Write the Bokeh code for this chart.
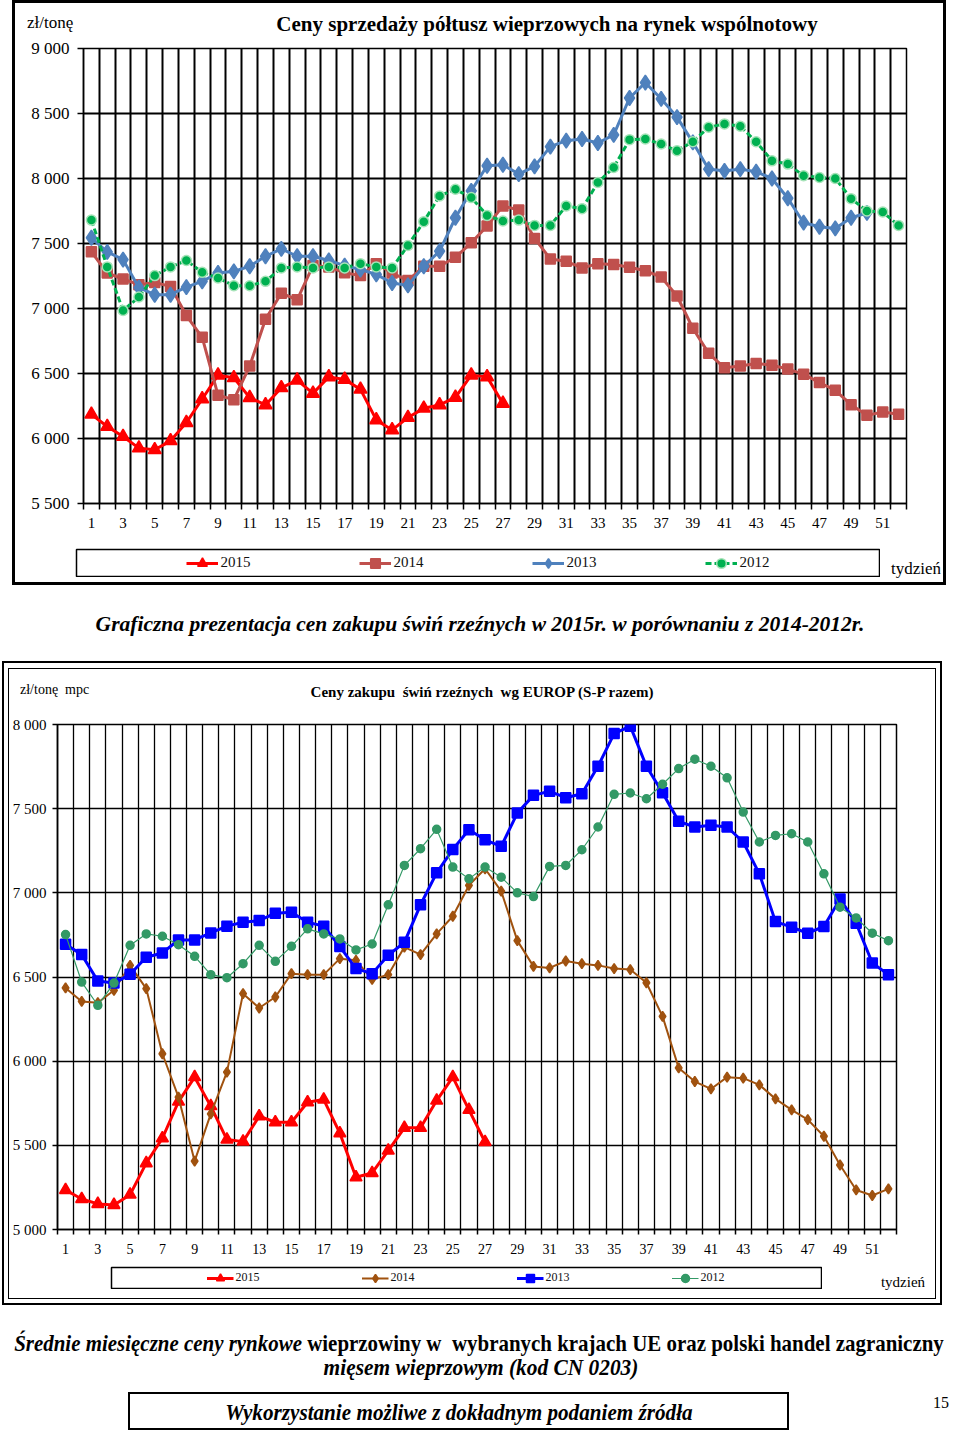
from bokeh.plotting import figure
from bokeh.models import FixedTicker, Legend, LegendItem, Div, Spacer
from bokeh.layouts import column, row
from bokeh.embed import file_html
from bokeh.resources import INLINE

FONT = "Liberation Serif"

# ---------------- data ----------------
weeks = list(range(1, 53))
odd_weeks = list(range(1, 53, 2))

# Chart 1: Ceny sprzedaży półtusz wieprzowych (zł/tonę)
top_2015 = [6186, 6092, 6015, 5926, 5913, 5982, 6122, 6304, 6487, 6467, 6314, 6258, 6390, 6449,
            6347, 6474, 6454, 6378, 6143, 6066, 6161, 6232, 6258, 6316, 6487, 6474, 6270]
top_2014 = [7436, 7273, 7227, 7183, 7200, 7170, 6946, 6778, 6333, 6299, 6557, 6918, 7118, 7067,
            7330, 7320, 7275, 7253, 7345, 7273, 7215, 7325, 7325, 7394, 7505, 7634, 7789, 7758,
            7539, 7381, 7363, 7312, 7345, 7338, 7317, 7291, 7242, 7096, 6848, 6655, 6544, 6557,
            6577, 6564, 6534, 6495, 6430, 6371, 6260, 6178, 6204, 6186]
top_2013 = [7544, 7436, 7376, 7160, 7106, 7106, 7165, 7209, 7273, 7286, 7325, 7402, 7459, 7402,
            7402, 7369, 7330, 7300, 7262, 7196, 7178, 7325, 7441, 7698, 7905, 8098, 8106, 8034,
            8093, 8245, 8291, 8304, 8273, 8335, 8619, 8737, 8613, 8472, 8278, 8072, 8059, 8072,
            8052, 8000, 7848, 7660, 7629, 7616, 7698, 7735]
top_2012 = [7680, 7320, 6985, 7088, 7253, 7320, 7369, 7278, 7235, 7175, 7175, 7209, 7312, 7320,
            7312, 7320, 7312, 7345, 7320, 7312, 7485, 7668, 7866, 7917, 7853, 7716, 7673, 7680,
            7639, 7639, 7789, 7768, 7969, 8085, 8299, 8304, 8265, 8214, 8283, 8394, 8420, 8402,
            8283, 8136, 8111, 8021, 8008, 8000, 7845, 7750, 7742, 7639]
top_yticks = [5500, 6000, 6500, 7000, 7500, 8000, 8500, 9000]

# Chart 2: Ceny zakupu świń rzeźnych wg EUROP (zł/tonę mpc)
bot_2015 = [5235, 5181, 5152, 5146, 5207, 5394, 5542, 5760, 5905, 5733, 5534, 5522, 5673, 5637,
            5637, 5756, 5772, 5572, 5310, 5336, 5469, 5604, 5604, 5766, 5905, 5711, 5520]
bot_2014 = [6435, 6355, 6347, 6421, 6569, 6431, 6044, 5786, 5406, 5687, 5935, 6401, 6316, 6381,
            6520, 6514, 6514, 6609, 6599, 6486, 6514, 6678, 6633, 6756, 6861, 7044, 7143, 7010,
            6716, 6563, 6554, 6595, 6579, 6569, 6550, 6544, 6466, 6266, 5960, 5879, 5835, 5905,
            5899, 5859, 5776, 5711, 5653, 5554, 5383, 5235, 5202, 5241]
bot_2013 = [6694, 6633, 6476, 6464, 6516, 6617, 6643, 6720, 6720, 6762, 6802, 6825, 6835, 6879,
            6885, 6825, 6802, 6681, 6550, 6520, 6629, 6706, 6929, 7119, 7258, 7375, 7315, 7276,
            7474, 7579, 7603, 7565, 7589, 7752, 7946, 7990, 7752, 7595, 7425, 7391, 7401, 7391,
            7302, 7113, 6829, 6796, 6760, 6800, 6964, 6819, 6583, 6514]
bot_2012 = [6752, 6470, 6332, 6464, 6688, 6756, 6742, 6692, 6623, 6514, 6496, 6579, 6688, 6593,
            6682, 6786, 6756, 6726, 6661, 6696, 6929, 7163, 7262, 7377, 7153, 7083, 7153, 7093,
            7000, 6978, 7157, 7163, 7256, 7391, 7585, 7593, 7559, 7645, 7738, 7794, 7752, 7683,
            7480, 7302, 7341, 7351, 7302, 7113, 6915, 6851, 6760, 6716]
bot_yticks = [5000, 5500, 6000, 6500, 7000, 7500, 8000]

years = ["2015", "2014", "2013", "2012"]

# series styles: (values, color, marker, marker size, line width, dash, marker outline)
top_specs = [
    (top_2015, "#FF0000", "triangle", 13, 3, "solid", "#FF0000"),
    (top_2014, "#C0504D", "square", 10, 3, "solid", "#C0504D"),
    (top_2013, "#4F81BD", "diamond", 15, 3, "solid", "#4F81BD"),
    (top_2012, "#00B050", "circle", 10, 3, "6 3", "#A6E3B8"),
]
bot_specs = [
    (bot_2015, "#FF0000", "triangle", 12, 3, "solid", "#FF0000"),
    (bot_2014, "#A0520F", "diamond", 10, 2, "solid", "#A0520F"),
    (bot_2013, "#0000FF", "square", 10, 3, "solid", "#0000FF"),
    (bot_2012, "#339966", "circle", 8, 1.2, "solid", "#339966"),
]


def fmt(v):
    return f"{v:,}".replace(",", " ")


def draw_series(p, specs):
    items = []
    for yr, (vals, col, mk, sz, lw, dash, mline) in zip(years, specs):
        xs = weeks[:len(vals)]
        lr = p.line(xs, vals, line_color=col, line_width=lw, line_dash=dash)
        sr = p.scatter(xs, vals, marker=mk, size=sz, fill_color=col, line_color=mline, line_width=1.5)
        items.append(LegendItem(label=yr, renderers=[lr, sr]))
    return items


def style_axes(p, yticks, ylab_size, xlab_size, grid_w, tick_len, ystand, xstand):
    bounds = [w + 0.5 for w in weeks[:-1]]
    p.xgrid.ticker = FixedTicker(ticks=bounds)
    p.ygrid.ticker = FixedTicker(ticks=yticks)
    for g in (p.xgrid, p.ygrid):
        g.grid_line_color = "black"
        g.grid_line_width = grid_w
    p.xaxis.ticker = FixedTicker(ticks=odd_weeks, minor_ticks=[w - 0.5 for w in weeks] + [52.5])
    p.xaxis.major_tick_out = 0
    p.xaxis.major_tick_in = 0
    p.xaxis.minor_tick_out = tick_len
    p.xaxis.minor_tick_in = 0
    p.xaxis.minor_tick_line_color = "black"
    p.xaxis.minor_tick_line_width = 1.5
    p.yaxis.ticker = FixedTicker(ticks=yticks)
    p.yaxis.major_label_overrides = {v: fmt(v) for v in yticks}
    p.yaxis.major_tick_out = tick_len
    p.yaxis.major_tick_in = 0
    p.yaxis.minor_tick_line_color = None
    for ax in (p.xaxis, p.yaxis):
        ax.axis_line_color = "black"
        ax.axis_line_width = 1.5
        ax.major_tick_line_color = "black"
        ax.major_tick_line_width = 1.5
        ax.major_label_text_font = FONT
        ax.major_label_text_color = "black"
    p.yaxis.major_label_text_font_size = ylab_size
    p.xaxis.major_label_text_font_size = xlab_size
    p.yaxis.major_label_standoff = ystand
    p.xaxis.major_label_standoff = xstand
    p.outline_line_color = "black"
    p.outline_line_width = 1.5


def legend_fig(specs, w, h, font_size, glyph_w, glyph_h, label_w, spacing, standoff):
    # small figure whose frame is the legend box; its series lie outside the view
    lf = figure(width=w, height=h, x_range=(-2, -1), y_range=(-2, -1),
                output_backend="svg", toolbar_location=None,
                x_axis_location=None, y_axis_location=None,
                min_border_left=1, min_border_right=1, min_border_top=1, min_border_bottom=1)
    lf.grid.visible = False
    lf.outline_line_color = "black"
    lf.outline_line_width = 1.5
    items = draw_series(lf, specs)
    leg = Legend(items=items, orientation="horizontal", location="center",
                 label_text_font=FONT, label_text_font_size=font_size, label_text_color="#111111",
                 label_width=label_w, label_height=glyph_h, glyph_width=glyph_w, glyph_height=glyph_h,
                 label_standoff=standoff, spacing=spacing, padding=0, margin=0,
                 border_line_color=None, background_fill_alpha=0)
    lf.add_layout(leg, "center")
    return lf


def bar(w, h):
    return Div(text="", width=w, height=h, margin=0, styles={"background-color": "black"})


def boxed(content, w, h, bw):
    return column(bar(w + 2 * bw, bw),
                  row(bar(bw, h), content, bar(bw, h), spacing=0),
                  bar(w + 2 * bw, bw), spacing=0)


def html_div(w, h, parts):
    inner = "".join(parts)
    html = (f'<div style="position:relative;width:{w}px;height:{h}px;'
            f"font-family:'{FONT}',serif;color:#000;line-height:1;\">{inner}</div>")
    return Div(text=html, width=w, height=h, margin=0)


def span(x, y, text, size, weight="normal", style="normal", align="left", scale=1.0):
    tx = {"left": "0", "center": "-50%", "right": "-100%"}[align]
    return (f'<span style="position:absolute;left:{x}px;top:{y}px;white-space:pre;'
            f'font-size:{size}px;font-weight:{weight};font-style:{style};'
            f'transform:translateX({tx}) scaleX({scale});transform-origin:center;">{text}</span>')


# ---------------- top chart block ----------------
p1 = figure(width=928, height=512, x_range=(0.5, 52.5), y_range=(5500, 9000),
            output_backend="svg", toolbar_location=None,
            min_border_left=68, min_border_right=37, min_border_top=12, min_border_bottom=45)
style_axes(p1, top_yticks, "17px", "15px", 2, 6, 8, 8)
draw_series(p1, top_specs)

head1 = html_div(928, 33, [
    span(12, 11, "zł/tonę", 17),
    span(532, 11, "Ceny sprzedaży półtusz wieprzowych na rynek wspólnotowy", 21,
         weight="bold", align="center"),
])
leg1 = legend_fig(top_specs, 805, 29, "15px", 32, 24, 30, 108, 3)
tyd1 = html_div(63, 29, [span(36, 12, "tydzień", 17, align="center")])
top_inner = column(head1, p1, row(Spacer(width=60, height=29), leg1, tyd1, spacing=0),
                   Spacer(width=928, height=5), spacing=0)
top_block = row(Spacer(width=12, height=585), boxed(top_inner, 928, 579, 3), spacing=0)

caption = html_div(960, 76, [
    span(480, 29, "Graficzna prezentacja cen zakupu świń rzeźnych w 2015r. w porównaniu z 2014-2012r.",
         21.5, weight="bold", style="italic", align="center"),
])

# ---------------- bottom chart block ----------------
p2 = figure(width=926, height=552, x_range=(0.5, 52.5), y_range=(5000, 8000),
            output_backend="svg", toolbar_location=None,
            min_border_left=48, min_border_right=39, min_border_top=10, min_border_bottom=37)
style_axes(p2, bot_yticks, "15px", "14px", 1.3, 5, 6, 9)
draw_series(p2, bot_specs)

head2 = html_div(926, 45, [
    span(11, 14, "zł/tonę  mpc", 14),
    span(473, 16, "Ceny zakupu  świń rzeźnych  wg EUROP (S-P razem)", 15,
         weight="bold", align="center"),
])
leg2 = legend_fig(bot_specs, 712, 23, "12px", 27, 20, 25, 101, 2)
tyd2 = html_div(113, 32, [span(81, 9, "tydzień", 15, align="center")])
leg_row2 = row(Spacer(width=101, height=32), column(leg2, Spacer(width=712, height=9), spacing=0),
               tyd2, spacing=0)
bot_inner = column(head2, p2, leg_row2, spacing=0)
inner_box = boxed(bot_inner, 926, 629, 1)
outer_content = column(Spacer(width=936, height=5),
                       row(Spacer(width=4, height=631), inner_box, Spacer(width=4, height=631), spacing=0),
                       Spacer(width=936, height=4), spacing=0)
bot_block = row(Spacer(width=2, height=644), boxed(outer_content, 936, 640, 2), spacing=0)

# ---------------- footer ----------------
footer = html_div(960, 126, [
    span(479, 27, "<i>Średnie miesięczne ceny rynkowe</i> wieprzowiny w  wybranych krajach UE oraz polski handel zagraniczny",
         23, weight="bold", align="center", scale=0.91),
    span(481, 51, "mięsem wieprzowym (kod CN 0203)", 23, weight="bold", style="italic",
         align="center", scale=0.93),
    '<div style="position:absolute;left:128px;top:87px;width:661px;height:38px;'
    'box-sizing:border-box;border:2px solid #000;"></div>',
    span(459, 96, "Wykorzystanie możliwe z dokładnym podaniem źródła", 23, weight="bold",
         style="italic", align="center", scale=0.92),
    span(941, 90, "15", 16, align="center"),
])

layout = column(top_block, caption, bot_block, footer, spacing=0)
open("out.html", "w").write(file_html(layout, INLINE))
